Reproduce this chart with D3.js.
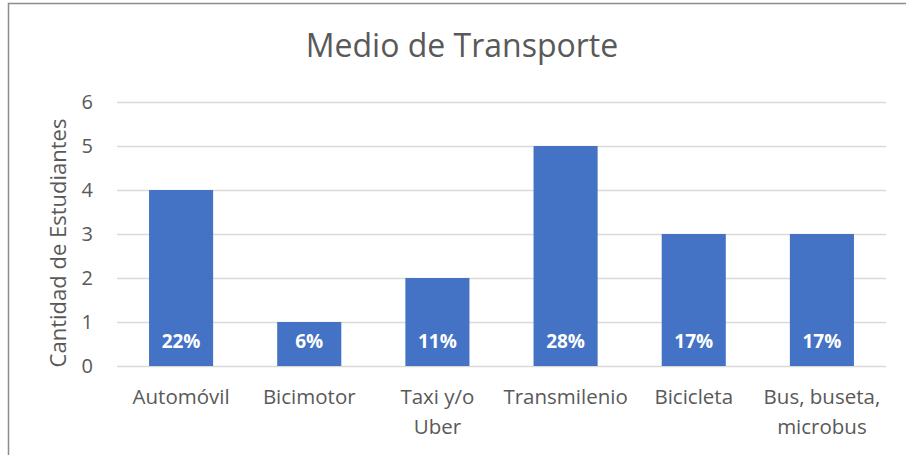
<!DOCTYPE html>
<html>
<head>
<meta charset="utf-8">
<script src="https://cdn.jsdelivr.net/npm/d3@7"></script>
<style>
  body { margin: 0; background: #fff; }
  text { font-family: "Open Sans", sans-serif; }
</style>
</head>
<body>
<script>
// chart data
const categories = ["Automóvil", "Bicimotor", "Taxi y/o Uber", "Transmilenio", "Bicicleta", "Bus, buseta, microbus"];
const categoryLines = [["Automóvil"], ["Bicimotor"], ["Taxi y/o", "Uber"], ["Transmilenio"], ["Bicicleta"], ["Bus, buseta,", "microbus"]];
const counts = [4, 1, 2, 5, 3, 3];
const percents = ["22%", "6%", "11%", "28%", "17%", "17%"];
const yTicks = [0, 1, 2, 3, 4, 5, 6];

const W = 906, H = 455;
const margin = {top: 102, right: 20, bottom: 89, left: 117};
const width = 886 - margin.left;
const height = 366 - margin.top;

const svg = d3.select("body").append("svg")
    .attr("width", W)
    .attr("height", H);

// chart border
svg.append("rect")
    .attr("x", 8.5).attr("y", 3.5)
    .attr("width", W + 10).attr("height", H + 10)
    .attr("fill", "#fff")
    .attr("stroke", "#8c8c8c")
    .attr("stroke-width", 1.5);

const g = svg.append("g")
    .attr("transform", "translate(" + margin.left + "," + margin.top + ")");

const x = d3.scaleBand().domain(categories).range([0, width]).paddingInner(0.5).paddingOuter(0.25);
const y = d3.scaleLinear().domain([0, 6]).range([height, 0]);

// gridlines
g.append("g")
    .selectAll("line")
    .data(yTicks)
    .join("line")
    .attr("x1", 0).attr("x2", width)
    .attr("y1", d => y(d) + 0.5).attr("y2", d => y(d) + 0.5)
    .attr("stroke", "#d9d9d9")
    .attr("stroke-width", 1.3);

// y axis
const yAxis = g.append("g")
    .call(d3.axisLeft(y).tickValues(yTicks).tickFormat(d3.format("d")).tickSize(0).tickPadding(24));
yAxis.select(".domain").remove();
yAxis.selectAll("text")
    .attr("fill", "#595959")
    .style("font-size", "20px");

// bars
g.selectAll(".bar")
    .data(counts)
    .join("rect")
    .attr("class", "bar")
    .attr("x", (d, i) => x(categories[i]))
    .attr("y", d => y(d))
    .attr("width", x.bandwidth())
    .attr("height", d => height - y(d))
    .attr("fill", "#4472c4");

// percentage labels
g.selectAll(".pct")
    .data(percents)
    .join("text")
    .attr("class", "pct")
    .attr("x", (d, i) => x(categories[i]) + x.bandwidth() / 2)
    .attr("y", y(0) - 25)
    .attr("text-anchor", "middle")
    .attr("dy", "0.35em")
    .attr("fill", "#fff")
    .style("font-size", "19px")
    .style("font-weight", "bold")
    .text(d => d);

// category labels
const cat = g.selectAll(".cat")
    .data(categoryLines)
    .join("text")
    .attr("class", "cat")
    .attr("text-anchor", "middle")
    .attr("fill", "#595959")
    .style("font-size", "20.5px")
    .attr("transform", (d, i) => "translate(" + (x(categories[i]) + x.bandwidth() / 2) + "," + (height + 38) + ")");
cat.selectAll("tspan")
    .data(d => d)
    .join("tspan")
    .attr("x", 0)
    .attr("y", (d, i) => i * 30)
    .text(d => d);

// y axis title
svg.append("text")
    .attr("transform", "translate(66,243) rotate(-90)")
    .attr("text-anchor", "middle")
    .attr("fill", "#595959")
    .style("font-size", "22px")
    .text("Cantidad de Estudiantes");

// chart title
svg.append("text")
    .attr("x", 462).attr("y", 57)
    .attr("text-anchor", "middle")
    .attr("fill", "#595959")
    .style("font-size", "32px")
    .text("Medio de Transporte");
</script>
</body>
</html>
